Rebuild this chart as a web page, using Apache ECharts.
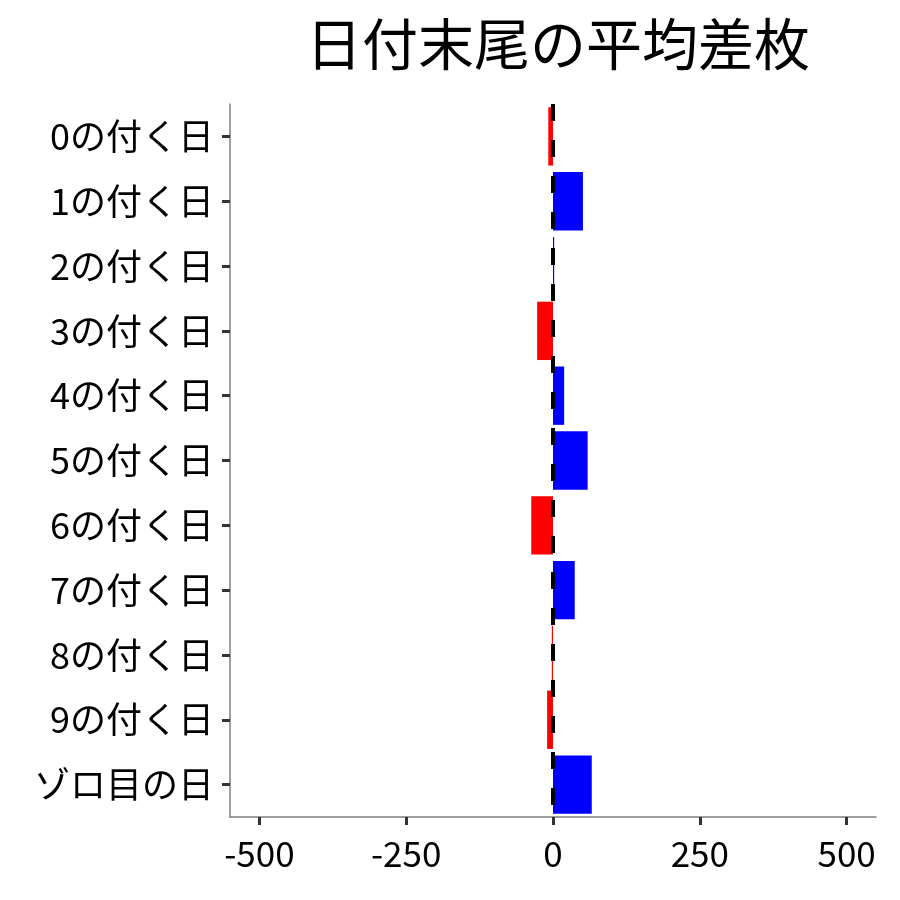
<!DOCTYPE html>
<html>
<head>
<meta charset="utf-8">
<script src="https://cdn.jsdelivr.net/npm/echarts@6/dist/echarts.min.js"></script>
<style>
  html, body { margin: 0; padding: 0; background: #fff; }
  #chart { width: 900px; height: 900px; }
</style>
</head>
<body>
<div id="chart"></div>
<script>
// 日付末尾ごとの平均差枚
const categories = ['0の付く日', '1の付く日', '2の付く日', '3の付く日', '4の付く日',
  '5の付く日', '6の付く日', '7の付く日', '8の付く日', '9の付く日', 'ゾロ目の日'];
const avgDiff = [-8, 51, 2, -27, 19, 59, -37, 37, -2, -10, 66];
const xTicks = [-500, -250, 0, 250, 500];

const font = '"Noto Sans CJK JP", "Noto Sans", sans-serif';
let myChart = echarts.init(document.getElementById('chart'));

let option = {
  backgroundColor: '#fff',
  animation: false,
  title: {
    text: '日付末尾の平均差枚',
    left: 553,
    top: 11,
    textAlign: 'center',
    textStyle: { fontFamily: font, fontSize: 56, fontWeight: 'normal', color: '#000' }
  },
  grid: { left: 230, width: 646, top: 104, height: 713 },
  xAxis: {
    type: 'value',
    min: -550,
    max: 550,
    splitLine: { show: false },
    axisLine: { show: true, onZero: false, lineStyle: { color: '#7f7f7f', width: 1.5 } },
    axisTick: { show: true, customValues: xTicks, length: 8, lineStyle: { color: '#333', width: 3 } },
    axisLabel: {
      customValues: xTicks,
      margin: 19,
      fontFamily: font, fontSize: 35, color: '#000'
    }
  },
  yAxis: {
    type: 'category',
    inverse: true,
    data: categories,
    axisLine: { show: true, onZero: false, lineStyle: { color: '#7f7f7f', width: 1.5 } },
    axisTick: { show: true, alignWithLabel: true, length: 8, lineStyle: { color: '#333', width: 3 } },
    axisLabel: { margin: 16, fontFamily: font, fontSize: 36, color: '#000' }
  },
  series: [{
    type: 'bar',
    barWidth: '90%',
    data: avgDiff.map(v => ({
      value: v,
      itemStyle: { color: v < 0 ? '#ff0000' : '#0000ff' }
    })),
    markLine: {
      silent: true,
      symbol: 'none',
      label: { show: false },
      lineStyle: { color: '#000', width: 4, type: [17, 19] },
      data: [{ xAxis: 0 }]
    }
  }]
};

myChart.setOption(option, true);
</script>
</body>
</html>
